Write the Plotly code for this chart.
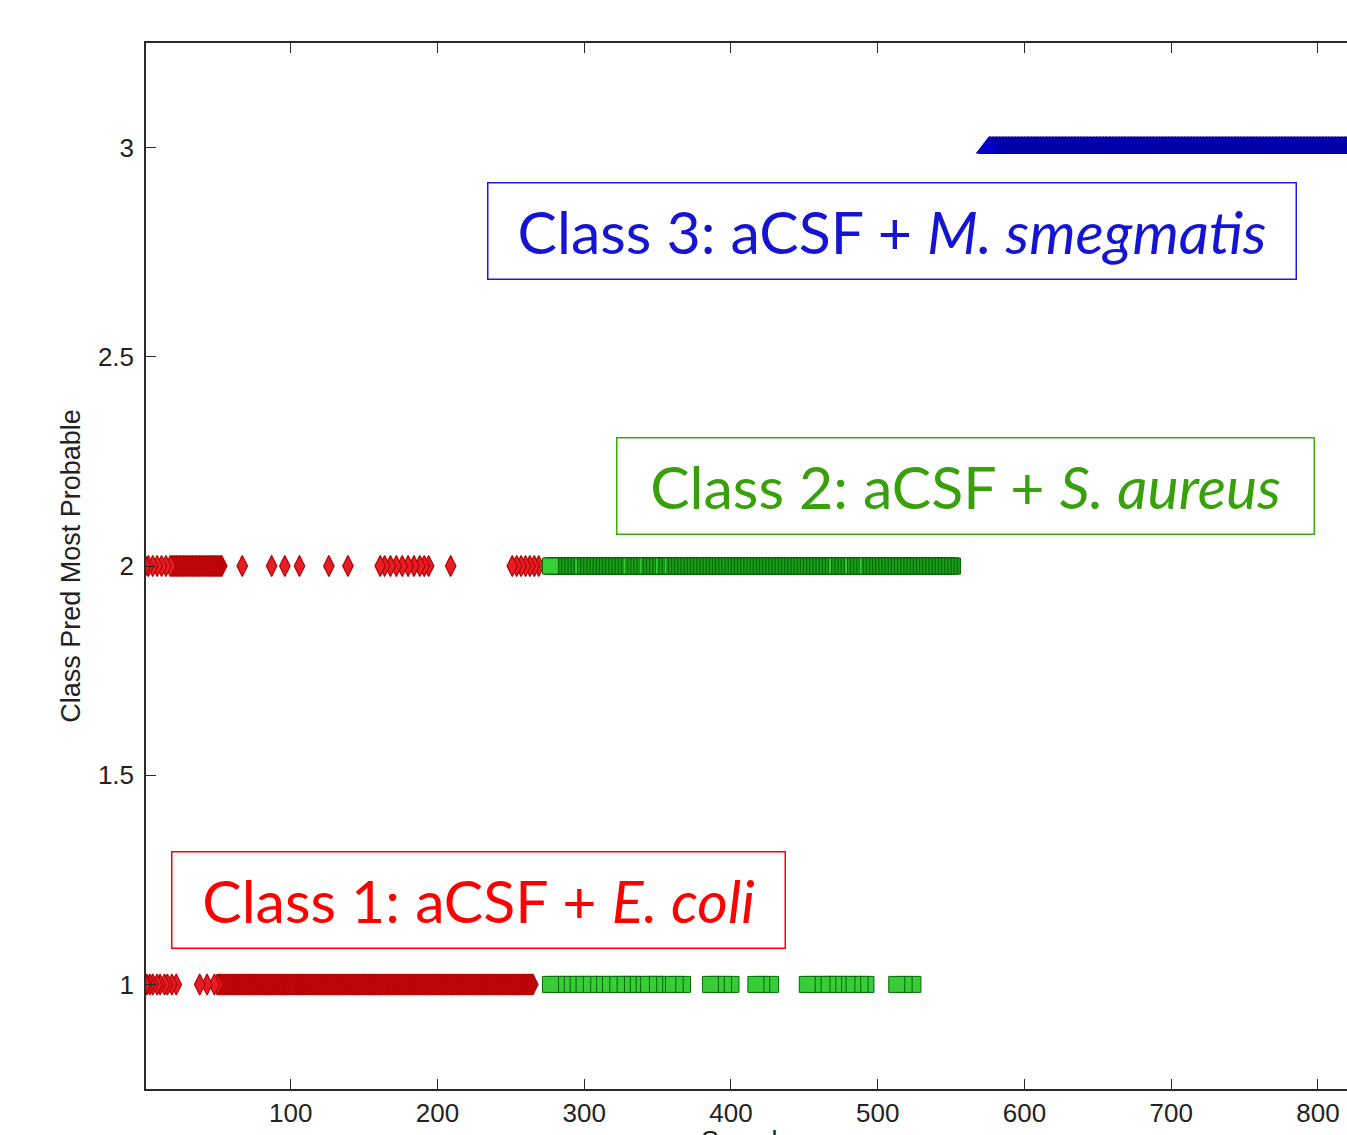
import plotly.graph_objects as go

# ---------------- data (sample index, predicted class) ----------------
# Class 1 (E. coli) samples predicted as class 1 : runs of consecutive samples [start, end]
ecoli_pred1_runs = [[1, 1], [2, 2], [4, 4], [6, 6], [9, 9], [11, 11], [14, 14], [16, 16],
                    [19, 19], [22, 22], [38, 38], [43, 43], [48, 48], [50, 265]]
# Class 1 (E. coli) samples predicted as class 2
ecoli_pred2_runs = [[1, 1], [3, 3], [6, 6], [9, 9], [12, 12], [15, 15], [18, 53], [67, 67],
                    [87, 87], [96, 96], [106, 106], [126, 126], [139, 139],
                    [161, 161], [164, 164], [168, 168], [172, 172], [176, 176], [180, 180],
                    [184, 184], [188, 188], [191, 191], [194, 194], [209, 209],
                    [251, 251], [254, 254], [257, 257], [260, 260], [263, 263], [266, 266],
                    [269, 269]]
# Class 2 (S. aureus) samples predicted as class 1
saureus_pred1_x = [277, 281, 285, 289, 294, 299, 303, 307, 312, 317, 322, 326, 330, 333,
                   339, 344, 348, 350, 357, 362, 367,
                   386, 390, 395, 400,
                   417, 421, 427,
                   452, 456, 462, 466, 470, 473, 479, 483, 488, 492,
                   513, 518, 524]
# Class 2 (S. aureus) samples predicted as class 2
saureus_pred2_runs = [[277, 288], [290, 321], [323, 332], [334, 343], [345, 349],
                      [351, 461], [463, 472], [474, 482], [484, 551]]
# Class 3 (M. smegmatis) samples predicted as class 3
msmeg_pred3_runs = [[576, 840]]

x_ticks = [100, 200, 300, 400, 500, 600, 700, 800]
y_ticks = [1, 1.5, 2, 2.5, 3]
y_tick_text = ["1", "1.5", "2", "2.5", "3"]

x_title = "Sample"
y_title = "Class Pred Most Probable"
labels = ["Class 1: aCSF + <i>E. coli</i>",
          "Class 2: aCSF + <i>S. aureus</i>",
          "Class 3: aCSF + <i>M. smegmatis</i>"]


def expand(runs):
    out = []
    for a, b in runs:
        out.extend(range(a, b + 1))
    return out


def top_first(xs):
    # left-most sample drawn last (on top), as in the original figure
    return sorted(xs, reverse=True)


TICK_FONT = "Liberation Sans, Arial, sans-serif"
BOX_FONT = "Lato, sans-serif"

fig = go.Figure()

red_marker = dict(symbol="diamond-tall", size=15, color="#E41E26",
                  line=dict(color="#B40000", width=1.2))
green_marker = dict(symbol="square", size=16, color="#39CC39",
                    line=dict(color="#006A00", width=1))
blue_marker = dict(symbol="triangle-up", size=22, color="#0000C8",
                   line=dict(color="#00009A", width=1))

x = top_first(expand(ecoli_pred1_runs))
fig.add_trace(go.Scatter(x=x, y=[1] * len(x), mode="markers", marker=red_marker,
                         name="E. coli", showlegend=False))
x = top_first(expand(ecoli_pred2_runs))
fig.add_trace(go.Scatter(x=x, y=[2] * len(x), mode="markers", marker=red_marker,
                         name="E. coli", showlegend=False))
x = top_first(saureus_pred1_x)
fig.add_trace(go.Scatter(x=x, y=[1] * len(x), mode="markers", marker=green_marker,
                         name="S. aureus", showlegend=False))
x = top_first(expand(saureus_pred2_runs))
fig.add_trace(go.Scatter(x=x, y=[2] * len(x), mode="markers", marker=green_marker,
                         name="S. aureus", showlegend=False))
x = top_first(expand(msmeg_pred3_runs))
fig.add_trace(go.Scatter(x=x, y=[3] * len(x), mode="markers", marker=blue_marker,
                         name="M. smegmatis", showlegend=False))

axis_col = "#2a2a2a"
fig.update_layout(
    width=1347, height=1135,
    margin=dict(l=146, r=0, t=43, b=46, autoexpand=False),
    paper_bgcolor="white", plot_bgcolor="white",
    showlegend=False,
    xaxis=dict(range=[1.4, 819.8], tickvals=x_ticks, ticks="inside", ticklen=10,
               tickcolor=axis_col, showline=True, linecolor=axis_col, linewidth=1.5,
               mirror="ticks", showgrid=False, zeroline=False,
               tickfont=dict(family=TICK_FONT, size=26, color="#222"),
               automargin=False),
    yaxis=dict(range=[0.75, 3.25], tickvals=y_ticks, ticktext=y_tick_text,
               ticks="inside", ticklen=10, tickcolor=axis_col, ticklabelstandoff=5,
               showline=True, linecolor=axis_col, linewidth=1.5, mirror=False,
               showgrid=False, zeroline=False,
               tickfont=dict(family=TICK_FONT, size=26, color="#222"),
               title=dict(text=y_title,
                          font=dict(family=TICK_FONT, size=27, color="#222"), standoff=9),
               automargin=False),
    yaxis2=dict(range=[0.75, 3.25], tickvals=y_ticks, overlaying="y", side="right",
                anchor="x", ticks="inside", ticklen=10, tickcolor=axis_col,
                showline=False, showticklabels=False, showgrid=False, zeroline=False),
)

# x-axis title (sits at the bottom edge, mostly cut off as in the original)
fig.add_annotation(x=0.5, y=-0.0335, xref="paper", yref="paper", text=x_title,
                   showarrow=False, xanchor="center", yanchor="top",
                   font=dict(family=TICK_FONT, size=27, color="#222"))

box_specs = [
    (labels[0], 227.9, 1.202, 612, "#FF0000", "#FF0000"),
    (labels[1], 559.9, 2.191, 696, "#37A00A", "#3CAA0A"),
    (labels[2], 509.9, 2.800, 807, "#1414D2", "#1A1AE6"),
]
for text, bx, by, w, tc, bc in box_specs:
    fig.add_annotation(x=bx, y=by, xref="x", yref="y", text=text, showarrow=False,
                       xanchor="center", yanchor="middle", align="center",
                       width=w, height=95, borderpad=0, borderwidth=1.5,
                       bordercolor=bc, bgcolor="white",
                       font=dict(family=BOX_FONT, size=59, color=tc))

fig.write_html("out.html", config={"displayModeBar": False},
               post_script="document.body.style.margin='0px';")
